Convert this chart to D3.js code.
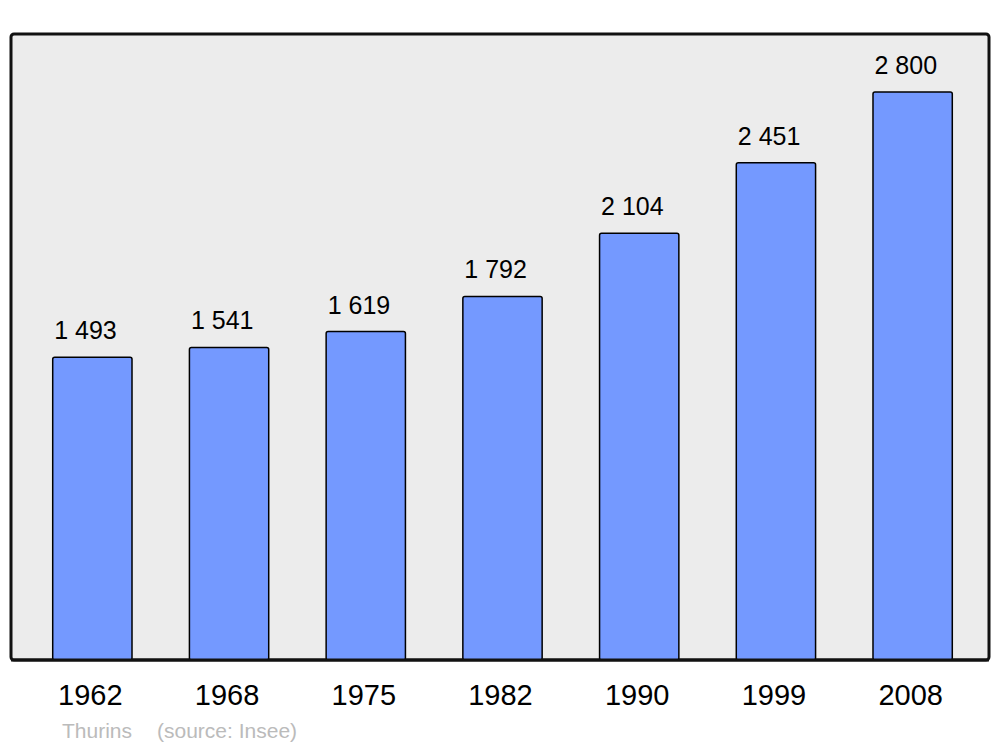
<!DOCTYPE html>
<html>
<head>
<meta charset="utf-8">
<script src="https://cdnjs.cloudflare.com/ajax/libs/d3/7.8.5/d3.min.js"></script>
<style>
  body { margin: 0; background: #fff; }
  text { font-family: "Liberation Sans", Arial, sans-serif; }
</style>
</head>
<body>
<div id="chart"></div>
<script>
var years = ["1962", "1968", "1975", "1982", "1990", "1999", "2008"];
var population = [1493, 1541, 1619, 1792, 2104, 2451, 2800];
var labels = ["1 493", "1 541", "1 619", "1 792", "2 104", "2 451", "2 800"];

var width = 1000,
    height = 747;

var svg = d3.select("#chart")
    .append("svg")
    .attr("width", width)
    .attr("height", height);

var frame = {left: 11, top: 34, right: 989, bottom: 660};

var x = d3.scaleBand()
    .domain(years)
    .range([24, 981])
    .paddingInner(0.42)
    .paddingOuter(0.21);

var y = d3.scaleLinear()
    .domain([0, 2800])
    .range([frame.bottom, 92]);

svg.append("rect")
    .attr("x", frame.left)
    .attr("y", frame.top)
    .attr("width", frame.right - frame.left)
    .attr("height", frame.bottom - frame.top)
    .attr("rx", 3)
    .attr("fill", "#ececec")
    .attr("stroke", "#111")
    .attr("stroke-width", 3);

var data = years.map(function(d, i) {
    return {year: d, value: population[i], label: labels[i]};
});

svg.selectAll(".bar")
    .data(data)
    .enter().append("rect")
    .attr("class", "bar")
    .attr("x", function(d) { return x(d.year); })
    .attr("y", function(d) { return y(d.value); })
    .attr("width", x.bandwidth())
    .attr("height", function(d) { return frame.bottom - y(d.value); })
    .attr("rx", 2)
    .attr("fill", "#7499ff")
    .attr("stroke", "#000")
    .attr("stroke-width", 1.5);

// redraw frame bottom over bars
svg.append("line")
    .attr("x1", frame.left)
    .attr("x2", frame.right)
    .attr("y1", frame.bottom)
    .attr("y2", frame.bottom)
    .attr("stroke", "#111")
    .attr("stroke-width", 3);

svg.selectAll(".value")
    .data(data)
    .enter().append("text")
    .attr("class", "value")
    .attr("x", function(d) { return x(d.year) + 1.5; })
    .attr("y", function(d) { return y(d.value) - 18; })
    .attr("text-anchor", "start")
    .attr("font-size", 25)
    .attr("fill", "#000")
    .text(function(d) { return d.label; });

svg.selectAll(".year")
    .data(data)
    .enter().append("text")
    .attr("class", "year")
    .attr("x", function(d) { return x(d.year) + x.bandwidth() / 2 - 2; })
    .attr("y", 705)
    .attr("text-anchor", "middle")
    .attr("font-size", 29)
    .attr("fill", "#000")
    .text(function(d) { return d.year; });

svg.append("text")
    .attr("x", 62)
    .attr("y", 738)
    .attr("font-size", 21)
    .attr("fill", "#bbb")
    .text("Thurins");

svg.append("text")
    .attr("x", 157)
    .attr("y", 738)
    .attr("font-size", 21)
    .attr("fill", "#bbb")
    .text("(source: Insee)");
</script>
</body>
</html>
